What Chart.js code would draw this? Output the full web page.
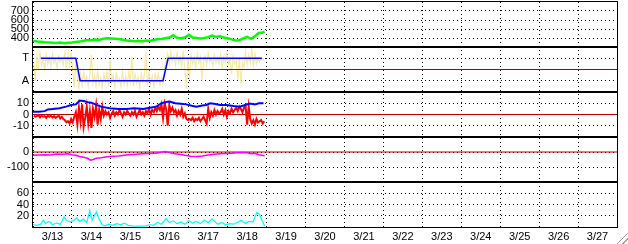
<!DOCTYPE html>
<html><head><meta charset="utf-8">
<script src="https://cdn.jsdelivr.net/npm/chart.js@4/dist/chart.umd.min.js"></script>
<style>
html,body{margin:0;padding:0;background:#fff;overflow:hidden}
#wrap{position:relative;width:628px;height:244px}
#grip{position:absolute;right:0;bottom:0;width:13px;height:13px;
background:repeating-linear-gradient(135deg,#fff 0 2px,#a0a0a0 2px 3px,#fff 3px 4px);
clip-path:polygon(100% 0,100% 100%,0 100%);}
</style></head>
<body><div id="wrap"><canvas id="c" width="628" height="244"></canvas><div id="grip"></div></div>
<script>
// ---- categories / tick labels ----
const dayLabels = ['3/13','3/14','3/15','3/16','3/17','3/18','3/19','3/20','3/21','3/22','3/23','3/24','3/25','3/26','3/27'];
const dayTicks = [0,1,2,3,4,5,6,7,8,9,10,11,12,13,14,15];
const ticksA = [400,500,600,700];
const ticksB = [1,3];
const labelsB = {1:'A',3:'T'};
const ticksC = [-10,0,10];
const ticksD = [-100,0];
const ticksE = [20,40,60];

// ---- series (x in days since 3/13 00:00) ----
const greenT = [0.0,0.1,0.2,0.3,0.4,0.5,0.6,0.7,0.8,0.9,1.0,1.1,1.2,1.3,1.4,1.5,1.6,1.7,1.8,1.9,2.0,2.1,2.2,2.3,2.4,2.5,2.6,2.7,2.8,2.9,3.0,3.1,3.2,3.3,3.4,3.5,3.6,3.7,3.8,3.9,4.0,4.1,4.2,4.3,4.4,4.5,4.6,4.7,4.8,4.9,5.0,5.1,5.2,5.3,5.4,5.5,5.6,5.7,5.8,5.9,5.95];
const greenV = [370,362,358,352,350,348,345,350,342,346,350,355,360,370,378,375,382,378,392,398,395,392,388,380,372,370,365,368,362,372,368,378,385,390,398,405,430,402,398,405,435,405,400,395,400,410,428,412,418,405,398,385,372,375,395,412,390,420,455,462,472];

const modeT = [0.2,1.10,1.21,3.34,3.47,5.88];
const modeV = [3,3,1,1,3,3];

const noiseStart = 0.02, noiseStep = 0.04;
const yellowV = [
 2.6,1.0,3.2,2.2,3.5,2.4,3.0,2.0,3.3,2.5,
 3.1,2.3,3.4,2.6,2.9,2.1,3.2,2.7,3.0,2.4,
 3.7,1.9,3.4,2.3,3.6,2.0,0.4,2.8,1.5,0.3,
 1.6,0.6,1.8,0.9,1.4,0.5,1.7,3.3,0.8,1.5,
 0.6,1.9,0.7,1.3,0.4,1.6,0.9,1.8,0.5,2.9,
 0.8,1.5,0.4,1.7,0.9,1.2,0.5,1.9,0.7,1.4,
 0.6,1.8,0.9,3.1,0.5,1.6,0.8,1.3,0.4,1.7,
 0.9,1.5,3.5,0.6,1.8,0.7,1.4,0.5,1.6,0.9,
 1.7,0.6,1.3,0.8,2.2,2.8,3.4,2.5,3.6,2.7,
 3.2,2.4,3.5,2.6,3.1,2.3,3.7,2.0,0.3,2.9,
 1.2,3.3,2.5,3.0,2.2,3.4,2.6,3.1,1.0,2.8,
 3.2,2.4,3.5,2.7,3.0,2.3,3.3,2.6,3.1,2.5,
 3.4,2.2,3.1,2.7,3.5,2.4,2.9,1.6,3.2,2.5,
 2.8,1.1,3.0,0.7,2.6,2.2,3.6,2.4,3.3,2.6,
 3.8,2.3,3.4,2.5,3.1,2.7,2.9,3.0,2.8];

const redV = [
 -1,-2,-1.5,-0.5,-2.5,-1,-2,-1.5,-3,-1,
 -2,-1,-2.5,-1.5,-3,-2,-1,-3.5,-2,-4,
 -5,-7,-6,-8,-4,-7,-2,2,-9,6,
 -6,9,-11,-3,7,-8,3,-12,5,-2,
 8,-9,4,-4,7,-1,3,0,2,-3,
 1,3,-1,2,0,4,1,-2,2,0,
 3,1,-1,2,0,3,-2,1,4,0,
 2,-1,3,1,5,0,4,2,6,3,
 7,4,9,-3,10,5,-10,8,3,6,
 2,4,-1,3,0,5,-2,1,-4,-5,
 -4,-5,-3,-6,-4,-5,-3,-6,-4,-2,
 -5,-8,5,-3,2,-1,4,0,3,1,
 2,5,0,4,-2,3,1,5,2,4,
 6,3,7,5,2,6,8,-9,7,-4,
 -8,-5,-9,-4,-7,-6,-5,-8,-6];

const blueT = [0.0,0.15,0.3,0.38,0.5,0.68,0.85,0.98,1.1,1.2,1.3,1.4,1.5,1.63,1.75,1.97,2.2,2.4,2.6,2.83,3.0,3.17,3.3,3.4,3.51,3.65,3.8,3.94,4.1,4.2,4.35,4.45,4.55,4.65,4.8,4.97,5.15,5.31,5.45,5.57,5.7,5.8,5.92];
const blueV = [2.5,2.5,3,4.5,4.8,5.5,7,8.5,9,12.5,12,11,10.5,8.5,7,5.5,5,5,5.5,5,6,7,10,11,11.5,10,9.5,9,7.5,7,8,8.5,10,9.5,8.5,8.5,7.5,7,8.5,9.8,9,10,10];

const magT = [0.0,0.15,0.3,0.45,0.6,0.75,0.9,1.0,1.1,1.2,1.3,1.4,1.48,1.55,1.62,1.75,1.9,2.05,2.2,2.4,2.6,2.8,3.0,3.15,3.3,3.4,3.5,3.6,3.75,3.9,4.05,4.2,4.35,4.5,4.65,4.8,4.95,5.1,5.25,5.4,5.5,5.6,5.7,5.8,5.95];
const magV = [-22,-20,-18,-20,-14,-15,-12,-18,-22,-30,-35,-42,-55,-50,-42,-38,-32,-28,-26,-20,-16,-12,-10,-8,-2,3,-4,-10,-15,-22,-28,-30,-26,-20,-15,-12,-10,-8,-5,-3,-5,-12,-8,-18,-25];

const cyanT = [0.0,0.1,0.2,0.27,0.33,0.4,0.45,0.5,0.6,0.7,0.8,0.86,0.95,1.05,1.12,1.2,1.3,1.38,1.46,1.52,1.58,1.63,1.7,1.78,1.85,1.95,2.05,2.15,2.25,2.35,2.45,2.55,2.65,2.8,2.9,3.0,3.1,3.2,3.3,3.42,3.5,3.6,3.7,3.8,3.9,4.0,4.1,4.2,4.3,4.4,4.5,4.6,4.68,4.75,4.85,4.95,5.05,5.15,5.25,5.35,5.45,5.55,5.65,5.75,5.82,5.88,5.95];
const cyanV = [4,3,5,12,6,10,8,4,7,5,18,12,9,12,16,10,14,8,29,12,20,27,14,4,2,5,3,6,4,7,3,2,1.5,1.5,2,4,3,8,5,15,8,11,6,9,5,11,7,10,6,12,8,14,9,5,8,4,6,5,8,12,6,10,9,26,22,12,2];

// reference lines (value levels)
const refB = 2, refC = 0, refD = 0;
const xMin = 0, xMax = 15;

// ---- build ----
const pairs = (t, v) => t.map((x, i) => ({x, y: v[i]}));
const even = (v) => v.map((y, i) => ({x: noiseStart + i * noiseStep, y}));
const hline = (y) => [{x: xMin, y}, {x: xMax, y}];

const FONT = {family: "'Liberation Sans', Arial, sans-serif", size: 11};
const DOT = [1, 3];

function yScale(min, max, ticks, cb) {
  return {
    type: 'linear', position: 'left', stack: 'main', stackWeight: 1,
    min, max,
    afterBuildTicks: (s) => { s.ticks = ticks.map(v => ({value: v})); },
    afterFit: (s) => { s.width = 31; s.paddingTop = 0; s.paddingBottom = 0; },
    ticks: {color: '#000', font: FONT, padding: 4, autoSkip: false, callback: cb || ((v) => String(v))},
    grid: {color: '#000', lineWidth: 1, drawTicks: false},
    border: {display: false, dash: DOT}
  };
}

const ds = (data, axis, color, width, order) => ({
  data, yAxisID: axis, xAxisID: 'x', borderColor: color, borderWidth: width,
  pointRadius: 0, tension: 0, fill: false, order
});

const framePlugin = {
  id: 'frame',
  afterDatasetsDraw(chart) {
    const {ctx, chartArea: a} = chart;
    ctx.save();
    ctx.strokeStyle = '#000';
    ctx.lineWidth = 1;
    ctx.strokeRect(a.left - 0.5, a.top - 0.5, a.right - a.left + 1, a.bottom - a.top + 1);
    ctx.lineWidth = 2;
    ['pB', 'pC', 'pD', 'pE'].forEach(id => {
      const y = Math.round(chart.scales[id].top);
      ctx.beginPath(); ctx.moveTo(a.left, y); ctx.lineTo(a.right, y); ctx.stroke();
    });
    ctx.restore();
  }
};

new Chart(document.getElementById('c'), {
  type: 'line',
  data: {
    datasets: [
      ds(pairs(greenT, greenV), 'pA', '#00ff00', 2.5, 1),
      ds(even(yellowV), 'pB', '#f8e8a8', 1.2, 5),
      ds(hline(refB), 'pB', '#a80000', 1, 4),
      ds(pairs(modeT, modeV), 'pB', '#0000ff', 1.5, 1),
      ds(hline(refC), 'pC', '#b00000', 1, 6),
      ds(even(redV), 'pC', '#ff0000', 2, 3),
      ds(pairs(blueT, blueV), 'pC', '#0000ff', 2, 2),
      ds(hline(refD), 'pD', '#b00000', 1, 4),
      ds(pairs(magT, magV), 'pD', '#ff00ff', 1.5, 1),
      ds(pairs(cyanT, cyanV), 'pE', '#00ffff', 1.2, 1)
    ]
  },
  options: {
    responsive: false, animation: false, devicePixelRatio: 1,
    layout: {padding: {left: 2, top: 2, right: 11, bottom: 0}},
    plugins: {legend: {display: false}, tooltip: {enabled: false}},
    scales: {
      x: {
        type: 'linear', position: 'bottom', min: xMin, max: xMax,
        afterBuildTicks: (s) => { s.ticks = dayTicks.map(v => ({value: v})); },
        afterFit: (s) => { s.height = 17; s.paddingLeft = 0; s.paddingRight = 0; },
        ticks: {color: '#000', font: FONT, padding: 3, autoSkip: false, maxRotation: 0,
                labelOffset: 19.47, callback: (v) => dayLabels[v] || ''},
        grid: {color: '#000', lineWidth: 1, drawTicks: false},
        border: {display: false, dash: DOT}
      },
      pE: yScale(0, 80, ticksE),
      pD: yScale(-200, 100, ticksD),
      pC: yScale(-20, 20, ticksC),
      pB: yScale(0, 4, ticksB, (v) => labelsB[v] || ''),
      pA: yScale(300, 800, ticksA)
    }
  },
  plugins: [framePlugin]
});
</script>
</body></html>
